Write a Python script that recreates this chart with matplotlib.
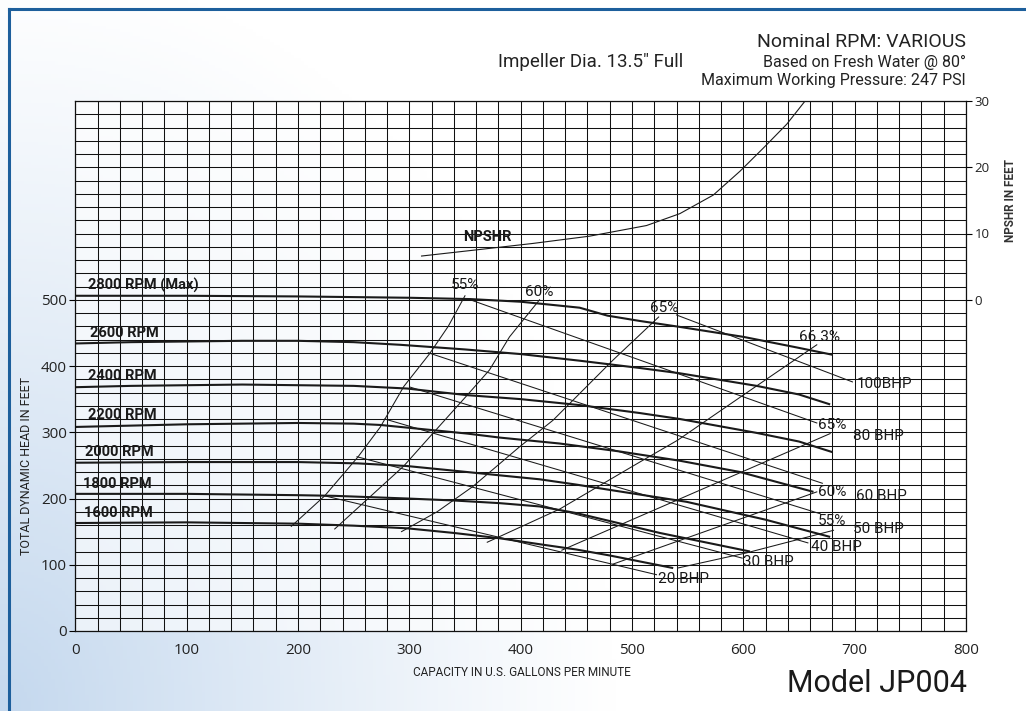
import numpy as np
import matplotlib
matplotlib.use("Agg")
import matplotlib.pyplot as plt
from matplotlib.lines import Line2D

# ---------------- data ----------------
rpm_labels = ["2800 RPM (Max)", "2600 RPM", "2400 RPM", "2200 RPM", "2000 RPM", "1800 RPM", "1600 RPM"]
rpm2800_q = [0, 100, 200, 300, 355, 400, 424, 453, 478, 507, 543, 600, 648, 680]
rpm2800_h = [506, 506, 505, 503, 501, 497, 493, 488, 476, 468, 459, 444, 428, 417]
rpm2600_q = [0, 50, 100, 150, 200, 250, 292, 350, 400, 453, 507, 543, 612, 650, 678]
rpm2600_h = [434, 436, 437, 438, 438, 436, 432, 425, 418, 408, 397, 389, 370, 357, 342]
rpm2400_q = [0, 50, 100, 150, 200, 250, 298, 330, 352, 400, 453, 507, 543, 612, 650, 680]
rpm2400_h = [368, 370, 371, 372, 371, 370, 366, 360, 356, 350, 341, 329, 320, 299, 286, 270]
rpm2200_q = [0, 50, 100, 150, 200, 250, 274, 298, 352, 381, 435, 489, 543, 597, 663]
rpm2200_h = [308, 310, 312, 313, 314, 313, 311, 307, 298, 292, 283, 271, 257, 240, 210]
rpm2000_q = [0, 100, 200, 254, 298, 340, 381, 417, 450, 480, 549, 620, 678]
rpm2000_h = [254, 255, 255, 253, 249, 242, 235, 229, 221, 213, 195, 168, 142]
rpm1800_q = [0, 100, 200, 233, 298, 340, 381, 417, 450, 480, 525, 606]
rpm1800_h = [207, 207, 205, 204, 200, 197, 193, 188, 178, 166, 148, 120]
rpm1600_q = [0, 100, 200, 250, 298, 340, 381, 417, 450, 480, 537]
rpm1600_h = [163, 164, 162, 159, 155, 148, 140, 131, 123, 114, 95]

eff55L_q = [194, 224, 254, 274, 295, 318, 335, 350]
eff55L_h = [158, 204, 263, 308, 369, 418, 460, 506]
eff60L_q = [233, 265, 295, 321, 352, 372, 390, 417]
eff60L_h = [154, 203, 249, 298, 356, 394, 444, 500]
eff65L_q = [293, 325, 357, 399, 429, 483, 524]
eff65L_h = [150, 180, 218, 278, 318, 409, 474]
eff663_q = [370, 435, 507, 541, 612, 666]
eff663_h = [134, 184, 255, 288, 370, 432]
eff65R_q = [437, 678]
eff65R_h = [122, 298]
eff60R_q = [483, 666]
eff60R_h = [101, 210]
eff55R_q = [541, 603, 681]
eff55R_h = [95, 118, 152]

bhp100_q = [540, 698]; bhp100_h = [477, 376]
bhp80_q = [353, 666];  bhp80_h = [501, 314]
bhp60_q = [317, 671];  bhp60_h = [420, 223]
bhp50_q = [301, 669];  bhp50_h = [368, 177]
bhp40_q = [278, 658];  bhp40_h = [320, 133]
bhp30_q = [253, 599];  bhp30_h = [263, 110]
bhp20_q = [224, 522];  bhp20_h = [204, 85]

npshr_q = [311, 364, 411, 462, 513, 543, 573, 597, 618, 639, 655]
npshr_ft = [6.6, 7.6, 8.5, 9.6, 11.2, 13.0, 15.8, 19.4, 22.9, 26.5, 29.9]

x_ticks = [0, 100, 200, 300, 400, 500, 600, 700, 800]
y_ticks = [0, 100, 200, 300, 400, 500]
npshr_ticks = [0, 10, 20, 30]

# ---------------- figure ----------------
W, H = 1026, 711
fig = plt.figure(figsize=(W / 100, H / 100), dpi=100)

# background gradient
bg = fig.add_axes([0, 0, 1, 1], zorder=-10)
u = np.linspace(0, 1, 300)[None, :]
v = np.linspace(0, 1, 220)[:, None]  # 0 top, 1 bottom
b = np.clip(1 - np.sqrt((u / 0.6) ** 2 + ((1 - v) / 1.05) ** 2), 0, 1) ** 1.1
blue = np.array([196, 216, 238]) / 255.0
img = (1 - b[..., None]) * 1.0 + b[..., None] * blue
bg.imshow(img, aspect="auto", extent=[0, 1, 0, 1], origin="upper")
bg.set_xlim(0, 1); bg.set_ylim(0, 1)
bg.axis("off")

# border
bc = "#1d5f9c"
fig.add_artist(Line2D([9 / W, 1.0], [1 - 9 / H, 1 - 9 / H], color=bc, lw=2.2, transform=fig.transFigure))
fig.add_artist(Line2D([9 / W, 9 / W], [0, 1 - 9 / H], color=bc, lw=2.2, transform=fig.transFigure))

left, right = 75.3 / W, 966 / W
bottom, top = (H - 631) / H, (H - 101) / H
ax = fig.add_axes([left, bottom, right - left, top - bottom])
ax.set_facecolor((1, 1, 1, 0.6))
ax.set_xlim(0, 800)
ax.set_ylim(0, 800)

tickfont = "Open Sans"
ax.set_xticks(x_ticks)
ax.set_xticklabels([str(t) for t in x_ticks], fontsize=11, family=tickfont, color="#222")
ax.set_yticks(y_ticks)
ax.set_yticklabels([str(t) for t in y_ticks], fontsize=11, family=tickfont, color="#222")
ax.set_xticks(np.arange(0, 801, 20), minor=True)
ax.set_yticks(np.arange(0, 801, 20), minor=True)
ax.tick_params(axis="x", which="major", length=0, pad=9)
ax.tick_params(axis="y", which="major", length=4, width=0.8, pad=2, direction="out")
ax.tick_params(which="minor", length=0)
ax.grid(which="both", color="#111", lw=0.75)
for s in ax.spines.values():
    s.set_linewidth(0.9)
    s.set_color("#111")

ax2 = ax.twinx()
ax2.set_ylim(-50, 30)
ax2.set_yticks(npshr_ticks)
ax2.set_yticklabels([str(t) for t in npshr_ticks], fontsize=9.5, family=tickfont, color="#222")
ax2.tick_params(axis="y", length=4, width=0.8, pad=2, direction="out")
for s in ax2.spines.values():
    s.set_visible(False)

thick = dict(color="#1a1a1a", lw=1.5, solid_capstyle="butt", solid_joinstyle="round")
thin = dict(color="#1a1a1a", lw=0.75, solid_joinstyle="round")

for q, h in [(rpm2800_q, rpm2800_h), (rpm2600_q, rpm2600_h), (rpm2400_q, rpm2400_h),
             (rpm2200_q, rpm2200_h), (rpm2000_q, rpm2000_h), (rpm1800_q, rpm1800_h),
             (rpm1600_q, rpm1600_h)]:
    ax.plot(q, h, **thick)

for q, h in [(eff55L_q, eff55L_h), (eff60L_q, eff60L_h), (eff65L_q, eff65L_h), (eff663_q, eff663_h),
             (eff65R_q, eff65R_h), (eff60R_q, eff60R_h), (eff55R_q, eff55R_h)]:
    ax.plot(q, h, **thin)

for q, h in [(bhp100_q, bhp100_h), (bhp80_q, bhp80_h), (bhp60_q, bhp60_h), (bhp50_q, bhp50_h),
             (bhp40_q, bhp40_h), (bhp30_q, bhp30_h), (bhp20_q, bhp20_h)]:
    ax.plot(q, h, **thin)

ax2.plot(npshr_q, npshr_ft, color="#1a1a1a", lw=0.8, solid_joinstyle="round")

# ---------------- labels ----------------
lab = "Roboto"
rpm_pos = [(11.5, 521), (13, 450), (11.5, 385), (11.5, 326), (8.7, 270), (6.9, 222), (7.8, 178)]
for t, (x, y) in zip(rpm_labels, rpm_pos):
    ax.text(x, y, t, fontsize=10.5, fontweight="bold", family=lab, ha="left", va="center", color="#1a1a1a")
ax.text(348, 595, "NPSHR", fontsize=10.5, fontweight="bold", family=lab, ha="left", va="center", color="#1a1a1a")

eff_labels = [("55%", 350, 522, "center"), ("60%", 417, 512, "center"), ("65%", 529, 488, "center"),
              ("66.3%", 668, 444, "center"), ("65%", 667, 311, "left"), ("60%", 667, 210, "left"),
              ("55%", 667, 166, "left")]
for t, x, y, ha in eff_labels:
    ax.text(x, y, t, fontsize=11, family=lab, ha=ha, va="center", color="#1a1a1a")

bhp_labels = [("100BHP", 702, 373), ("80 BHP", 698.5, 294), ("60 BHP", 701, 204), ("50 BHP", 698.5, 154),
              ("40 BHP", 661, 127), ("30 BHP", 600, 104), ("20 BHP", 523, 78.5)]
for t, x, y in bhp_labels:
    ax.text(x, y, t, fontsize=11, family=lab, ha="left", va="center", color="#1a1a1a")

hdr = "Roboto"
fig.text(right, 1 - 42 / H, "Nominal RPM: VARIOUS", fontsize=14, family=hdr, ha="right", va="center", color="#222")
fig.text(right, 1 - 62 / H, "Based on Fresh Water @ 80°", fontsize=11.5, family=hdr, ha="right", va="center", color="#222")
fig.text(right, 1 - 81 / H, "Maximum Working Pressure: 247 PSI", fontsize=11.5, family=hdr, ha="right", va="center", color="#222")
fig.text(498 / W, 1 - 62 / H, "Impeller Dia. 13.5\u2033 Full", fontsize=13.5, family=hdr, ha="left", va="center", color="#222")

fig.text(27 / W, 1 - 466 / H, "TOTAL DYNAMIC HEAD IN FEET", fontsize=9, family=hdr, rotation=90,
         ha="center", va="center", color="#222")
fig.text(1011 / W, 1 - 201 / H, "NPSHR IN FEET", fontsize=8.5, family=hdr, fontweight="bold", rotation=90,
         ha="center", va="center", color="#333")
fig.text(522 / W, 1 - 673 / H, "CAPACITY IN U.S. GALLONS PER MINUTE", fontsize=8.5, family=hdr,
         ha="center", va="center", color="#222")
fig.text(877 / W, 1 - 683 / H, "Model JP004", fontsize=22, family=hdr, ha="center", va="center", color="#1a1a1a")

fig.savefig("out.png", dpi=100)
